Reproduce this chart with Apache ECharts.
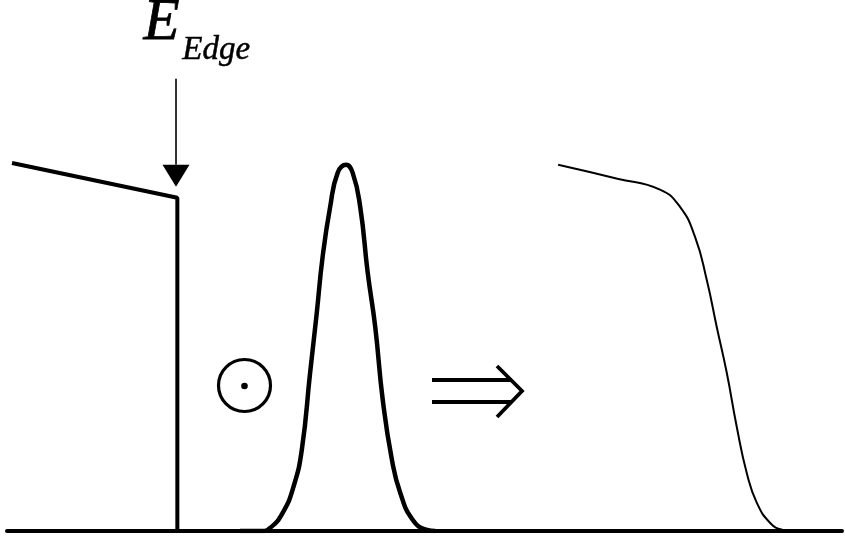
<!DOCTYPE html>
<html><head><meta charset="utf-8">
<script src="https://cdn.jsdelivr.net/npm/echarts@6/dist/echarts.min.js"></script>
<style>html,body{margin:0;padding:0;background:#fff}#c{width:845px;height:540px}</style>
</head><body><div id="c"></div>
<script>
// Absorption edge (step) before broadening
const edgeX = [0.6, 20.4, 20.4];
const edgeY = [1.005, 0.91, 0];
// Gaussian broadening function
const gaussX = [27.9, 30.5, 31.5, 33.0, 34.3, 35.3, 36.3, 37.1, 37.8, 38.7, 39.6, 40.6, 41.4, 42.3, 43.2, 44.1, 45.0, 46.1, 47.1, 48.6, 50.3, 51.3];
const gaussY = [0, 0, 0.008, 0.049, 0.120, 0.221, 0.432, 0.596, 0.749, 0.885, 0.978, 1.0, 0.978, 0.885, 0.705, 0.557, 0.358, 0.194, 0.104, 0.030, 0.003, 0];
// Broadened edge (result)
const broadX = [66.0, 73.1, 78.2, 80.6, 82.4, 83.8, 85.0, 86.2, 87.4, 88.6, 89.8, 91.4, 92.9, 94.0];
const broadY = [1.0, 0.962, 0.932, 0.885, 0.803, 0.686, 0.557, 0.432, 0.284, 0.158, 0.077, 0.022, 0.003, 0];
// Edge-energy marker arrow
const arrowX = [20.24, 20.24];
const arrowY = [1.235, 1.0];
const arrowHead = [[20.24, 0.97]];
const labelMain = 'E';
const labelSub = 'Edge';

const zip = (xs, ys) => xs.map((x, i) => [x, ys[i]]);
const chart = echarts.init(document.getElementById('c'), null, {renderer: 'canvas'});
const black = '#000';
chart.setOption({
  animation: false,
  backgroundColor: '#fff',
  grid: {left: 7, right: 3, top: 0, bottom: 9},
  xAxis: {type: 'value', min: 0, max: 100, axisLine: {show: true, lineStyle: {color: black, width: 4}},
    axisTick: {show: false}, axisLabel: {show: false}, splitLine: {show: false}},
  yAxis: {type: 'value', min: 0, max: 1.45, show: false, splitLine: {show: false}},
  series: [
    {type: 'line', data: zip(edgeX, edgeY), symbol: 'none', lineStyle: {color: black, width: 4}},
    {type: 'line', data: zip(gaussX, gaussY), symbol: 'none', smooth: true, lineStyle: {color: black, width: 4.5}},
    {type: 'line', data: zip(broadX, broadY), symbol: 'none', smooth: true, lineStyle: {color: black, width: 2}},
    {type: 'line', data: zip(arrowX, arrowY), symbol: 'none', lineStyle: {color: black, width: 1.6}},
    {type: 'scatter', data: arrowHead, symbol: 'triangle', symbolRotate: 180, symbolSize: [27, 22], itemStyle: {color: black, opacity: 1}}
  ],
  graphic: [
    {type: 'text', left: 143, top: -6, style: {text: labelMain, font: 'italic 59px "Liberation Serif"', fill: black, stroke: black, lineWidth: 0.8}},
    {type: 'text', left: 182, top: 34, style: {text: labelSub, font: 'italic 33px "Liberation Serif"', fill: black, stroke: black, lineWidth: 0.5}},
    {type: 'circle', shape: {cx: 244.5, cy: 385.5, r: 26}, style: {fill: 'none', stroke: black, lineWidth: 3.2}},
    {type: 'circle', shape: {cx: 244.5, cy: 386, r: 3.3}, style: {fill: black}},
    {type: 'line', shape: {x1: 432, y1: 380, x2: 512, y2: 380}, style: {stroke: black, lineWidth: 3.8}},
    {type: 'line', shape: {x1: 432, y1: 402, x2: 512, y2: 402}, style: {stroke: black, lineWidth: 3.8}},
    {type: 'polyline', shape: {points: [[497, 366], [522, 391], [497, 417]]}, style: {stroke: black, lineWidth: 3.8, fill: 'none'}}
  ]
});
</script></body></html>
